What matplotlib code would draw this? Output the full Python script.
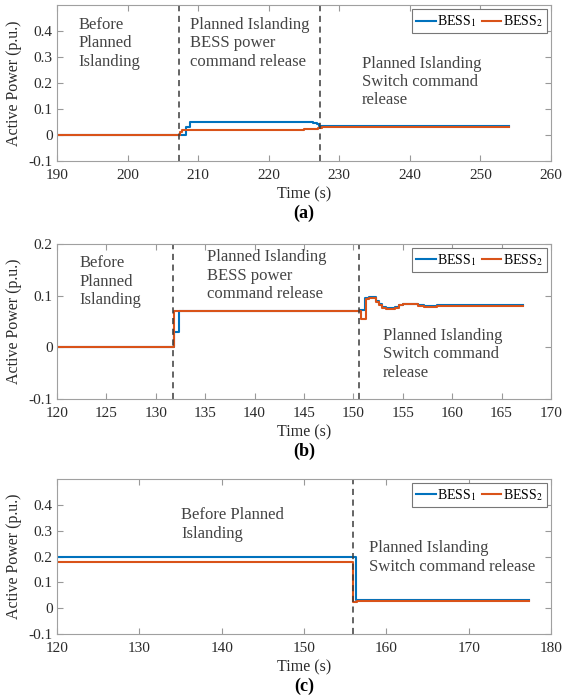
import matplotlib.pyplot as plt

plt.rcParams['font.family'] = ['Liberation Serif', 'DejaVu Serif']
plt.rcParams['mathtext.fontset'] = 'stix'

# panel (a)
t_a1 = [190, 207.8, 208.3, 208.8, 225.5, 226.3, 226.8, 227.2, 227.5, 254]
p_a1 = [0, 0, 0.03, 0.05, 0.048, 0.045, 0.04, 0.035, 0.032, 0.032]
t_a2 = [190, 207.4, 207.7, 225.0, 226.0, 227.0, 227.5, 254]
p_a2 = [0, 0.01, 0.02, 0.021, 0.023, 0.026, 0.029, 0.029]
events_a = [207.3, 227.3]

# panel (b)
t_b1 = [120, 131.8, 132.3, 150.7, 151.2, 151.6, 152.3, 152.6, 152.9, 153.3,
        154.2, 154.6, 155.0, 156.5, 157.2, 158.5, 167.2]
p_b1 = [0, 0.03, 0.07, 0.073, 0.095, 0.098, 0.09, 0.083, 0.078, 0.076,
        0.078, 0.082, 0.084, 0.081, 0.08, 0.081, 0.081]
t_b2 = [120, 131.8, 150.8, 151.3, 151.6, 152.3, 152.6, 152.9, 153.3, 154.2,
        154.6, 155.0, 156.5, 157.2, 158.5, 167.2]
p_b2 = [0, 0.07, 0.055, 0.093, 0.095, 0.088, 0.081, 0.077, 0.075, 0.077,
        0.081, 0.083, 0.08, 0.079, 0.08, 0.08]
events_b = [131.7, 150.6]

# panel (c)
t_c1 = [120, 156.3, 156.6, 177.3]
p_c1 = [0.2, 0.03, 0.032, 0.032]
t_c2 = [120, 156.0, 156.4, 177.3]
p_c2 = [0.178, 0.022, 0.027, 0.027]
events_c = [156.0]

BLUE = '#0072BD'
ORANGE = '#D95319'
TXT = '#444444'
DARK = '#2a2a2a'


def panel(ax, t1, p1, t2, p2, events, xlim, xticks, ylim, yticks, notes, tag):
    ax.plot(t1, p1, color=BLUE, lw=1.5, drawstyle='steps-post', label='BESS$_1$')
    ax.plot(t2, p2, color=ORANGE, lw=1.5, drawstyle='steps-post', label='BESS$_2$')
    for e in events:
        ax.axvline(e, color='#3a3a3a', ls=(0, (4, 3)), lw=1.1)
    for x, y, s in notes:
        ax.text(x, y, s, va='top', ha='left', fontsize=12, color=TXT,
                linespacing=1.2)
    ax.set_xlim(xlim)
    ax.set_ylim(ylim)
    ax.set_xticks(xticks)
    ax.set_yticks(yticks)
    ax.set_yticklabels(['%g' % v for v in yticks])
    ax.tick_params(direction='in', top=True, right=True, length=4,
                   labelsize=11, colors='#999999', labelcolor=DARK)
    ax.tick_params(axis='x', pad=6)
    ax.tick_params(axis='y', pad=3)
    for s in ax.spines.values():
        s.set_color('#a0a0a0')
        s.set_linewidth(0.8)
    ax.set_xlabel('Time (s)', fontsize=11.5, color=DARK, labelpad=3)
    ax.set_ylabel('Active Power (p.u.)', fontsize=11.5, color=DARK, labelpad=5)
    leg = ax.legend(loc='upper right', ncol=2, fontsize=10, handlelength=1.4,
                    handletextpad=0.1, columnspacing=0.4, borderpad=0.3,
                    fancybox=False, framealpha=1, borderaxespad=0.3)
    leg.get_frame().set_edgecolor('#777777')
    leg.get_frame().set_linewidth(0.8)
    ax.text(0.5, -0.335, tag, transform=ax.transAxes, ha='center', va='center',
            fontsize=13, fontweight='bold')


fig = plt.figure(figsize=(5.73, 7.0), dpi=100)
ax_a = fig.add_axes([0.0995, 0.7704, 0.862, 0.2224])
ax_b = fig.add_axes([0.0995, 0.4300, 0.862, 0.2214])
ax_c = fig.add_axes([0.0995, 0.0943, 0.862, 0.2214])

panel(ax_a, t_a1, p_a1, t_a2, p_a2, events_a, (190, 260), range(190, 261, 10),
      (-0.1, 0.5), [-0.1, 0, 0.1, 0.2, 0.3, 0.4],
      [(193.1, 0.455, 'Before\nPlanned\nIslanding'),
       (208.8, 0.455, 'Planned Islanding\nBESS power\ncommand release'),
       (233.2, 0.305, 'Planned Islanding\nSwitch command\nrelease')], '(a)')

panel(ax_b, t_b1, p_b1, t_b2, p_b2, events_b, (120, 170), range(120, 171, 5),
      (-0.1, 0.2), [-0.1, 0, 0.1, 0.2],
      [(122.3, 0.178, 'Before\nPlanned\nIslanding'),
       (135.2, 0.19, 'Planned Islanding\nBESS power\ncommand release'),
       (153.0, 0.038, 'Planned Islanding\nSwitch command\nrelease')], '(b)')

panel(ax_c, t_c1, p_c1, t_c2, p_c2, events_c, (120, 180), range(120, 181, 10),
      (-0.1, 0.5), [-0.1, 0, 0.1, 0.2, 0.3, 0.4],
      [(135.1, 0.39, 'Before Planned\nIslanding'),
       (157.9, 0.262, 'Planned Islanding\nSwitch command release')], '(c)')

fig.savefig('out.png', dpi=100)
